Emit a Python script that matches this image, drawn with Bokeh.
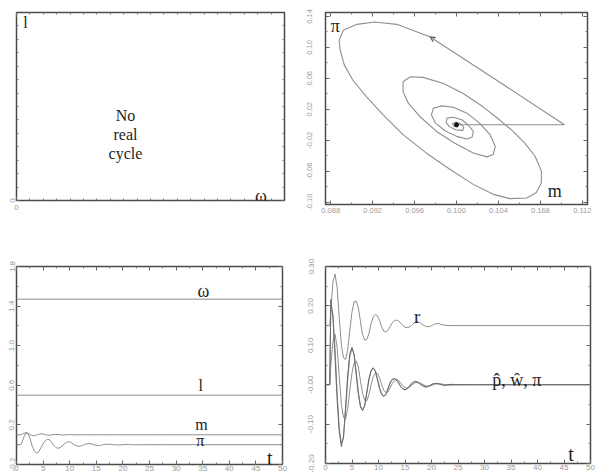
from bokeh.plotting import figure
from bokeh.layouts import column, row
from bokeh.models import (LinearAxis, FixedTicker, NumeralTickFormatter, Label, Arrow,
                          OpenHead, Range1d, CustomJSTickFormatter)
from bokeh.embed import file_html
from bokeh.resources import INLINE

# ---------------- data ----------------
# phase diagram (m, pi)
M_PATH = [0.1000, 0.1103, 0.1038, 0.0975, 0.0943, 0.0922, 0.0905, 0.0892, 0.0888, 0.0889,
          0.0893, 0.0901, 0.0914, 0.0930, 0.0949, 0.0971, 0.0994, 0.1016, 0.1035, 0.1051,
          0.1067, 0.1076, 0.1081, 0.1081, 0.1075, 0.1065, 0.1054, 0.1041, 0.1025, 0.1006,
          0.0987, 0.0968, 0.0956, 0.0949, 0.0949, 0.0954, 0.0965, 0.0981, 0.0998, 0.1016,
          0.1029, 0.1035, 0.1037, 0.1032, 0.1022, 0.1010, 0.0997, 0.0986, 0.0978, 0.0976,
          0.0980, 0.0989, 0.1000, 0.1010, 0.1015, 0.1016, 0.1011, 0.1005, 0.0997, 0.0991,
          0.0990, 0.0993, 0.0999, 0.1006, 0.1007, 0.1004, 0.0999, 0.0996, 0.0998, 0.1001,
          0.1001, 0.1000]
PI_PATH = [0.0, 0.0, 0.0578, 0.1134, 0.1297, 0.1327, 0.1297, 0.1220, 0.1091, 0.0963,
           0.0770, 0.0578, 0.0364, 0.0128, -0.0128, -0.0364, -0.0578, -0.0770, -0.0899, -0.0954,
           -0.0946, -0.0877, -0.0749, -0.0599, -0.0407, -0.0235, -0.0086, 0.0064, 0.0235, 0.0407,
           0.0535, 0.0612, 0.0620, 0.0556, 0.0428, 0.0278, 0.0107, -0.0086, -0.0235, -0.0364,
           -0.0415, -0.0385, -0.0278, -0.0128, 0.0021, 0.0150, 0.0227, 0.0244, 0.0214, 0.0128,
           0.0021, -0.0077, -0.0150, -0.0184, -0.0158, -0.0086, 0.0, 0.0064, 0.0098, 0.0086,
           0.0030, -0.0021, -0.0064, -0.0073, -0.0034, 0.0013, 0.0034, 0.0013, -0.0021, -0.0030,
           -0.0009, 0.0]
EQ_M, EQ_PI = [0.100], [0.000]

# time series
T = [0, 0.8, 1.0, 1.4, 1.8, 2.2, 2.6, 3.0, 3.4, 3.8,
     4.2, 4.6, 5.0, 5.4, 5.8, 6.2, 6.6, 7.0, 7.4, 7.8,
     8.2, 8.6, 9.0, 9.4, 9.8, 10.2, 10.6, 11.0, 11.4, 11.8,
     12.2, 12.6, 13.0, 13.4, 13.8, 14.2, 14.6, 15.0, 15.4, 15.8,
     16.2, 16.6, 17.0, 17.4, 17.8, 18.2, 18.6, 19.0, 19.4, 19.8,
     20.2, 20.6, 21.0, 21.4, 21.8, 22.5, 23.5, 25, 28, 50]

# bottom-left panel
T_FLAT = [0, 50]
OMEGA = [1.47, 1.47]
L_EMP = [0.5, 0.5]
M_T = [0.1, 0.1, 0.105, 0.115, 0.122, 0.115, 0.1, 0.092, 0.092, 0.098,
       0.106, 0.11, 0.108, 0.102, 0.097, 0.096, 0.099, 0.103, 0.104, 0.103,
       0.1, 0.098, 0.098, 0.1, 0.102, 0.102, 0.101, 0.099, 0.099, 0.1,
       0.1, 0.1, 0.1, 0.1, 0.1, 0.1, 0.1, 0.1, 0.1, 0.1,
       0.1, 0.1, 0.1, 0.1, 0.1, 0.1, 0.1, 0.1, 0.1, 0.1,
       0.1, 0.1, 0.1, 0.1, 0.1, 0.1, 0.1, 0.1, 0.1, 0.1]
PI_T = [0, 0, 0.02, 0.08, 0.12, 0.11, 0.05, -0.02, -0.07, -0.086,
        -0.07, -0.03, 0.01, 0.04, 0.055, 0.05, 0.025, -0.005, -0.028, -0.036,
        -0.03, -0.012, 0.01, 0.025, 0.03, 0.025, 0.01, -0.004, -0.014, -0.017,
        -0.012, -0.003, 0.006, 0.011, 0.011, 0.006, -0.001, -0.006, -0.008, -0.006,
        -0.002, 0.002, 0.004, 0.005, 0.003, 0.0, -0.002, -0.003, -0.003, -0.001,
        0.001, 0.002, 0.002, 0.001, 0.0, -0.001, 0.0, 0, 0, 0]

# bottom-right panel
R_T = [0.15, 0.15, 0.19, 0.26, 0.281, 0.245, 0.17, 0.10, 0.068, 0.064,
       0.09, 0.14, 0.185, 0.211, 0.212, 0.195, 0.16, 0.127, 0.113, 0.115,
       0.13, 0.155, 0.172, 0.178, 0.175, 0.163, 0.147, 0.136, 0.134, 0.138,
       0.148, 0.157, 0.162, 0.164, 0.162, 0.156, 0.150, 0.146, 0.145, 0.146,
       0.150, 0.155, 0.158, 0.160, 0.158, 0.154, 0.150, 0.148, 0.147, 0.148,
       0.151, 0.154, 0.155, 0.155, 0.153, 0.151, 0.150, 0.15, 0.15, 0.15]
PHAT_T = [0, 0, 0.216, 0.17, 0.07, -0.04, -0.12, -0.157, -0.13, -0.055,
          0.025, 0.08, 0.095, 0.075, 0.025, -0.025, -0.057, -0.066, -0.052, -0.018,
          0.016, 0.036, 0.043, 0.035, 0.012, -0.010, -0.025, -0.030, -0.024, -0.009,
          0.006, 0.014, 0.0155, 0.012, 0.004, -0.005, -0.011, -0.013, -0.010, -0.004,
          0.003, 0.007, 0.0085, 0.006, 0.002, -0.002, -0.005, -0.006, -0.004, -0.001,
          0.002, 0.003, 0.0035, 0.002, 0.0, -0.002, 0.001, 0, 0, 0]
WHAT_T = [0, 0, 0.05, 0.11, 0.128, 0.095, 0.02, -0.05, -0.083, -0.087,
          -0.06, -0.012, 0.03, 0.055, 0.06, 0.045, 0.01, -0.022, -0.04, -0.041,
          -0.025, 0.0, 0.02, 0.029, 0.029, 0.017, 0.0, -0.014, -0.02, -0.018,
          -0.008, 0.003, 0.01, 0.013, 0.011, 0.004, -0.003, -0.007, -0.009, -0.007,
          -0.002, 0.002, 0.005, 0.006, 0.005, 0.002, -0.001, -0.003, -0.004, -0.003,
          -0.001, 0.001, 0.002, 0.0025, 0.002, 0.0, -0.001, 0, 0, 0]
PI2_T = [0, 0, 0.20, 0.18, 0.09, -0.02, -0.11, -0.15, -0.135, -0.065,
         0.015, 0.072, 0.092, 0.078, 0.032, -0.018, -0.053, -0.064, -0.054, -0.022,
         0.012, 0.033, 0.042, 0.036, 0.015, -0.007, -0.023, -0.029, -0.025, -0.011,
         0.004, 0.013, 0.015, 0.012, 0.005, -0.004, -0.010, -0.013, -0.011, -0.005,
         0.002, 0.006, 0.008, 0.006, 0.003, -0.001, -0.004, -0.006, -0.004, -0.002,
         0.001, 0.003, 0.003, 0.002, 0.001, -0.001, 0.0, 0, 0, 0]

# tick values
P1_X_MAJOR, P1_X_MINOR = [0], list(range(1, 20))
P1_Y_MAJOR, P1_Y_MINOR = [0], list(range(1, 14))
P2_X_MAJOR = [0.088, 0.092, 0.096, 0.100, 0.104, 0.108, 0.112]
P2_X_MINOR = [0.090, 0.094, 0.098, 0.102, 0.106, 0.110]
P2_Y_MAJOR = [-0.10, -0.06, -0.02, 0.02, 0.06, 0.10, 0.14]
P2_Y_MINOR = [-0.08, -0.04, 0.0, 0.04, 0.08, 0.12]
T_MAJOR = [0, 5, 10, 15, 20, 25, 30, 35, 40, 45, 50]
T_MINOR = [2.5, 7.5, 12.5, 17.5, 22.5, 27.5, 32.5, 37.5, 42.5, 47.5]
P3_Y_MAJOR = [-0.2, 0.2, 0.6, 1.0, 1.4, 1.8]
P3_Y_MINOR = [0.0, 0.4, 0.8, 1.2, 1.6]
P4_Y_MAJOR = [-0.2, -0.1, 0.0, 0.1, 0.2, 0.3]
P4_Y_MINOR = [-0.15, -0.05, 0.05, 0.15, 0.25]

# ---------------- style ----------------
SERIF = "Liberation Serif"
SANS = "Liberation Sans"
LINE = "#8e8e8e"
FRAME = "#4a4a4a"
TICKLBL = "#9a9a9a"
INK = "#1e1e1e"


def make_fig(w, h, xr, yr, left, right, top, bottom):
    p = figure(frame_width=w - left - right, frame_height=h - top - bottom,
               x_range=Range1d(*xr), y_range=Range1d(*yr),
               output_backend="svg", toolbar_location=None,
               min_border_left=left, min_border_right=right,
               min_border_top=top, min_border_bottom=bottom)
    p.xgrid.visible = False
    p.ygrid.visible = False
    p.outline_line_color = FRAME
    p.outline_line_width = 1.5
    p.background_fill_color = "white"
    p.border_fill_color = "white"
    return p


def style_axis(ax, major, minor, fmt, standoff, size="8px", vertical=False, hidden=False):
    ax.ticker = FixedTicker(ticks=major, minor_ticks=minor)
    ax.axis_line_color = None
    ax.major_tick_in = 4
    ax.major_tick_out = 0
    ax.minor_tick_in = 2
    ax.minor_tick_out = 0
    ax.major_tick_line_color = "#666666"
    ax.minor_tick_line_color = "#777777"
    ax.major_label_standoff = standoff
    ax.major_label_text_font = SANS
    ax.major_label_text_font_size = size
    ax.major_label_text_color = TICKLBL
    if hidden:
        ax.formatter = CustomJSTickFormatter(code="return '';")
        ax.major_label_standoff = 0
        ax.major_label_text_font_size = "2px"
    else:
        ax.formatter = fmt
    if vertical:
        ax.major_label_orientation = "vertical"


def frame_axes(p, xmaj, xmin, xfmt, ymaj, ymin, yfmt, xstand, ystand, xsize="8px", ysize="8px"):
    style_axis(p.xaxis[0], xmaj, xmin, xfmt, xstand, xsize)
    style_axis(p.yaxis[0], ymaj, ymin, yfmt, ystand, ysize, vertical=True)
    top = LinearAxis()
    style_axis(top, xmaj, xmin, None, 0, hidden=True)
    p.add_layout(top, "above")
    right = LinearAxis()
    style_axis(right, ymaj, ymin, None, 0, hidden=True)
    p.add_layout(right, "right")


def lab(p, x, y, text, size, align="left"):
    p.add_layout(Label(x=x, y=y, text=text, text_font=SERIF, text_font_size=f"{size}px",
                       text_color=INK, text_align=align, text_baseline="alphabetic"))


# ---------------- panel 1: no real cycle ----------------
p1 = make_fig(300, 237, (0, 20), (0, 14), 16, 16, 8, 41)
frame_axes(p1, P1_X_MAJOR, P1_X_MINOR, NumeralTickFormatter(format="0"),
           P1_Y_MAJOR, P1_Y_MINOR, NumeralTickFormatter(format="0"), 4, 2)
lab(p1, 0.5, 13.25, "l", 16)
lab(p1, 8.13, 6.33, "No", 16, "center")
lab(p1, 8.13, 4.89, "real", 16, "center")
lab(p1, 8.13, 3.52, "cycle", 16, "center")
lab(p1, 17.8, 0.3, "ω", 18)

# ---------------- panel 2: phase diagram ----------------
p2 = make_fig(295, 237, (0.0875, 0.1125), (-0.103, 0.145), 25, 8, 12, 33)
x2fmt = CustomJSTickFormatter(code="return Math.abs(tick - 0.108) < 1e-9 ? '0.168' : tick.toFixed(3);")
frame_axes(p2, P2_X_MAJOR, P2_X_MINOR, x2fmt,
           P2_Y_MAJOR, P2_Y_MINOR, NumeralTickFormatter(format="0.00"), 3, 13, "7.5px", "7.5px")
p2.line(M_PATH, PI_PATH, line_color=LINE, line_width=1.1)
p2.scatter(EQ_M, EQ_PI, size=4, color="#111111")
p2.add_layout(Arrow(end=OpenHead(size=5, line_color="#555555", line_width=1.2),
                    x_start=0.0979, y_start=0.1099, x_end=0.0975, y_end=0.1134,
                    line_color=LINE, line_width=1))
lab(p2, 0.0880, 0.127, "π", 18)
lab(p2, 0.1087, -0.085, "m", 18)

# ---------------- panel 3: time paths omega, l, m, pi ----------------
p3 = make_fig(300, 237, (0, 50), (-0.2, 1.8), 16, 18, 28, 11)
frame_axes(p3, T_MAJOR, T_MINOR, NumeralTickFormatter(format="0"),
           P3_Y_MAJOR, P3_Y_MINOR, NumeralTickFormatter(format="0.0"), 1, 2)
p3.line(T_FLAT, OMEGA, line_color=LINE, line_width=1)
p3.line(T_FLAT, L_EMP, line_color=LINE, line_width=1)
p3.line(T, M_T, line_color=LINE, line_width=1)
p3.line(T, PI_T, line_color=LINE, line_width=1)
lab(p3, 34.0, 1.55, "ω", 18)
lab(p3, 34.2, 0.595, "l", 16)
lab(p3, 33.6, 0.2, "m", 16)
lab(p3, 33.8, 0.04, "π", 16)
lab(p3, 47.1, -0.13, "t", 20)

# ---------------- panel 4: time paths r, p^, w^, pi ----------------
p4 = make_fig(295, 237, (0, 50), (-0.2, 0.3), 25, 5, 29, 11)
y4fmt = CustomJSTickFormatter(code="return Math.abs(tick) < 1e-9 ? '-0.00' : tick.toFixed(2);")
frame_axes(p4, T_MAJOR, T_MINOR, NumeralTickFormatter(format="0"),
           P4_Y_MAJOR, P4_Y_MINOR, y4fmt, 1, 12)
p4.line(T, R_T, line_color=LINE, line_width=1)
p4.line(T, WHAT_T, line_color=LINE, line_width=1)
p4.line(T, PI2_T, line_color=LINE, line_width=1)
p4.line(T, PHAT_T, line_color="#6a6a6a", line_width=1)
lab(p4, 16.7, 0.174, "r", 19)
lab(p4, 31.45, 0.012, "p\u0302, \u0175, π", 18)
lab(p4, 45.8, -0.177, "t", 20)

layout = column(row(p1, p2), row(p3, p4))
open("out.html", "w").write(file_html(layout, INLINE, "phase diagrams"))
